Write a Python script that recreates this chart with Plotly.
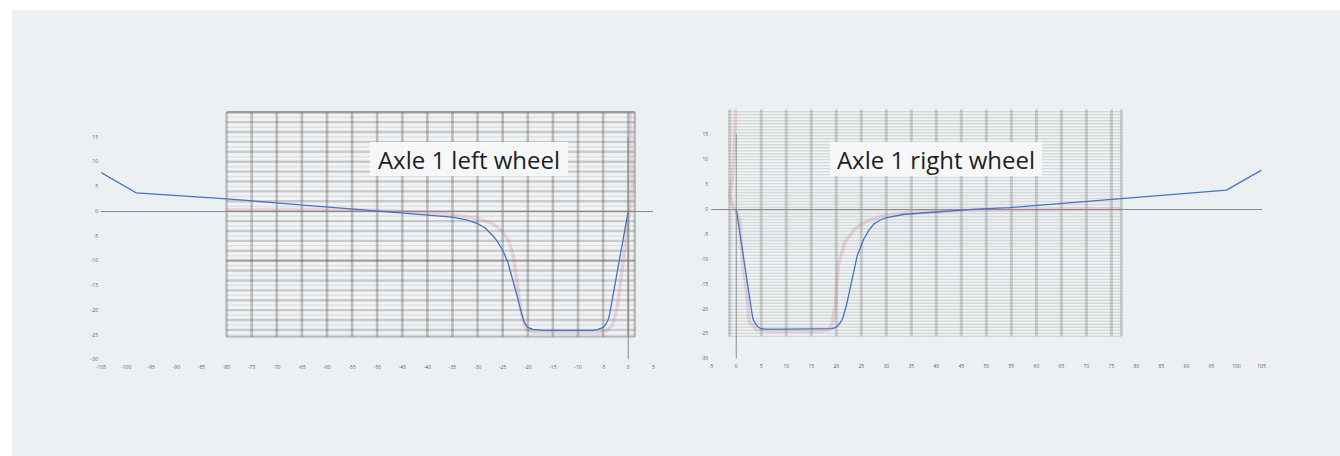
import plotly.graph_objects as go
import numpy as np

# ---------------- data ----------------
left_blue_x = [-105, -98, -80, -65, -55, -45, -40, -35, -32, -30, -28.5, -27, -26, -25, -24, -23, -22,
               -21.3, -20.7, -20, -19, -17, -10, -7, -6, -5, -4.5, -4, -3.7, 0]
left_blue_y = [7.8, 3.7, 2.5, 1.3, 0.4, -0.4, -0.7, -1.2, -1.8, -2.5, -3.4, -4.9, -6.2, -7.9, -10.2, -13.8, -17.6,
               -20.5, -22.5, -23.5, -23.9, -24.1, -24.1, -24.1, -23.9, -23.5, -22.9, -22.0, -20.8, 0]

left_red_x = [0.4, 0.7, 0.8, 0.5, 0.0, -0.45, -1.1, -2.1, -3.1, -4.4, -6, -10, -15, -19, -20.3, -21.0, -21.5,
              -22.2, -22.9, -23.8, -25.2, -27.1, -29.8, -33, -36, -40, -50, -60, -70, -80]
left_red_y = [20, 12, 5, 1, -1.5, -5.5, -10.9, -19, -23, -24.3, -24.5, -24.5, -24.5, -24.4, -23.8, -22, -19,
              -14, -8.9, -6, -3.9, -2.5, -1.5, -1.0, -0.6, -0.3, 0.2, 0.4, 0.4, 0.3]

right_blue_x = [0, 3.3, 3.8, 4.3, 5.0, 5.9, 10, 15, 19.1, 19.8, 20.3, 20.8, 21.3, 22.1, 22.9, 23.5, 24.2,
                25.5, 26.5, 27.5, 28.8, 30.1, 33.4, 38.6, 44.5, 48, 54.7, 59.7, 69.8, 79.7, 98, 105]
right_blue_y = [0, -21.9, -23.0, -23.6, -24.0, -24.1, -24.1, -24.1, -24.0, -23.8, -23.4, -22.8, -21.9, -19.0,
                -15.3, -12.2, -9.3, -6.0, -4.3, -3.0, -2.2, -1.7, -1.1, -0.7, -0.2, 0.0, 0.3, 0.7, 1.5, 2.3, 3.8, 7.8]

right_red_x = [-0.1, -0.3, -0.7, -1.3, -0.7, 0, 0.65, 1.3, 2.3, 2.6, 4, 8, 12, 16, 18.5, 19.1, 19.8, 20.4,
               21.7, 23.7, 26.3, 29.6, 35, 45, 55, 65, 77]
right_red_y = [20, 13, 6.6, 2.6, 0.7, -0.5, -2, -10.6, -18.6, -22.6, -24.2, -24.5, -24.5, -24.5, -24.2, -23.2,
               -19.3, -11.3, -6.6, -4, -2.3, -1.3, -0.7, -0.3, -0.2, -0.1, 0]

left_ticks_x = list(range(-105, 6, 5))
right_ticks_x = list(range(-5, 106, 5))
ticks_y = list(range(-30, 16, 5))

titles = ["Axle 1 left wheel", "Axle 1 right wheel"]

BLUE = "#4472c4"
RED = "rgba(205,120,135,0.25)"
BG = "#edf0f3"
TXT = "#5f5f5f"

W, H = 1340, 456

fig = go.Figure()

fig.add_trace(go.Scatter(x=left_red_x, y=left_red_y, mode="lines", line=dict(color=RED, width=3.5),
                         xaxis="x", yaxis="y", hoverinfo="skip"))
fig.add_trace(go.Scatter(x=left_blue_x, y=left_blue_y, mode="lines", line=dict(color=BLUE, width=1.3),
                         xaxis="x", yaxis="y"))
fig.add_trace(go.Scatter(x=right_red_x, y=right_red_y, mode="lines", line=dict(color=RED, width=3.5),
                         xaxis="x2", yaxis="y2", hoverinfo="skip"))
fig.add_trace(go.Scatter(x=right_blue_x, y=right_blue_y, mode="lines", line=dict(color=BLUE, width=1.3),
                         xaxis="x2", yaxis="y2"))

shapes = []
# gray panel
shapes.append(dict(type="rect", xref="paper", yref="paper", x0=7 / W, x1=1.02, y0=-0.02, y1=(H - 10) / H,
                   fillcolor=BG, line=dict(width=0), layer="below"))

# scanned grid, left
lx0, lx1, ly0, ly1 = -80, 1.3, -25.4, 20
shapes.append(dict(type="rect", xref="x", yref="y", x0=lx0, x1=lx1, y0=ly0, y1=ly1,
                   fillcolor="rgba(255,255,255,0.25)", line=dict(width=0), layer="below"))
for yy in np.arange(-25, 20.01, 1):
    if int(yy) % 2 == 0:
        col = "rgba(60,60,60,0.46)" if int(yy) in (-10, 20) else "rgba(90,90,90,0.28)"
        w = 2.4
    else:
        col = "rgba(120,120,120,0.15)"
        w = 1.6
    shapes.append(dict(type="line", xref="x", yref="y", x0=lx0, x1=lx1, y0=yy, y1=yy,
                       line=dict(color=col, width=w), layer="below"))
shapes.append(dict(type="line", xref="x", yref="y", x0=lx0, x1=lx1, y0=ly0, y1=ly0,
                   line=dict(color="rgba(90,90,90,0.35)", width=2), layer="below"))
for xx in list(range(-80, 1, 5)) + [lx1]:
    shapes.append(dict(type="line", xref="x", yref="y", x0=xx, x1=xx, y0=ly0, y1=ly1,
                       line=dict(color="rgba(80,80,80,0.32)", width=2.6), layer="below"))

# scanned grid, right
rx0, rx1, ry0, ry1 = -1.7, 77, -25.5, 20
shapes.append(dict(type="rect", xref="x2", yref="y2", x0=rx0, x1=rx1, y0=ry0, y1=ry1,
                   fillcolor="rgba(255,255,255,0.25)", line=dict(width=0), layer="below"))
for yy in np.arange(-25.5, 20.01, 0.6):
    shapes.append(dict(type="line", xref="x2", yref="y2", x0=rx0, x1=rx1, y0=yy, y1=yy,
                       line=dict(color="rgba(110,110,110,0.2)", width=1.4), layer="below"))
for xx in [-1.3] + list(range(5, 76, 5)) + [rx1]:
    shapes.append(dict(type="line", xref="x2", yref="y2", x0=xx, x1=xx, y0=ry0, y1=ry1,
                       line=dict(color="rgba(100,100,100,0.26)", width=3), layer="below"))

# vertical value axes (x = 0) spanning -30..15
for xr, yr in (("x", "y"), ("x2", "y2")):
    shapes.append(dict(type="line", xref=xr, yref=yr, x0=0, x1=0, y0=-30, y1=15,
                       line=dict(color="#8c8c8c", width=1), layer="above"))

annotations = []
for xr, yr, cx, cy, t, bw in (("x", "y", -31.7, 10.5, titles[0], 198), ("x2", "y2", 40.0, 10.0, titles[1], 212)):
    annotations.append(dict(xref=xr, yref=yr, x=cx, y=cy, text=t, showarrow=False,
                            font=dict(family="Open Sans", size=24, color="#1e1e1e"),
                            bgcolor="rgba(246,248,250,0.97)", borderpad=0, borderwidth=0,
                            width=bw, height=34, align="center", valign="middle",
                            xanchor="center", yanchor="middle"))

tickfont = dict(family="Open Sans", size=5, color=TXT)
common_x = dict(showgrid=False, zeroline=False, showline=False, ticks="", tickfont=tickfont, fixedrange=True,
                ticklabelstandoff=3)
common_y = dict(showgrid=False, zeroline=True, zerolinecolor="#8c8c8c", zerolinewidth=1, showline=False,
                ticks="", tickfont=tickfont, tickvals=ticks_y, ticktext=[str(v) for v in ticks_y],
                ticklabelstandoff=2)

fig.update_layout(
    autosize=True,
    margin=dict(l=0, r=0, t=0, b=0, pad=0),
    paper_bgcolor="white",
    plot_bgcolor="rgba(0,0,0,0)",
    showlegend=False,
    xaxis=dict(domain=[96.7 / W, 652.7 / W], range=[-105, 5], anchor="y",
               tickvals=left_ticks_x, ticktext=[str(v) for v in left_ticks_x], **common_x),
    yaxis=dict(domain=[(H - 362) / H, (H - 108) / H], range=[-30, 21], anchor="x", **common_y),
    xaxis2=dict(domain=[711 / W, 1265 / W], range=[-5, 105], anchor="y2",
                tickvals=right_ticks_x, ticktext=[str(v) for v in right_ticks_x], **common_x),
    yaxis2=dict(domain=[(H - 361) / H, (H - 105) / H], range=[-30, 21], anchor="x2", **common_y),
    shapes=shapes,
    annotations=annotations,
)

post = (
    "var h=document.documentElement, b=document.body;"
    "h.style.margin='0';h.style.padding='0';h.style.height='100%';h.style.overflow='hidden';"
    "b.style.margin='0';b.style.padding='0';b.style.height='100%';b.style.overflow='hidden';"
    "var gd=document.getElementById('{plot_id}');"
    "gd.style.width='100vw';gd.style.height='100vh';"
    "if(gd.parentElement&&gd.parentElement!==b){gd.parentElement.style.height='100%';gd.parentElement.style.width='100%';}"
    "Plotly.Plots.resize(gd);"
)

fig.write_html(
    "out.html",
    config={"displayModeBar": False, "responsive": True},
    default_width="100%",
    default_height="100%",
    post_script=post,
)
